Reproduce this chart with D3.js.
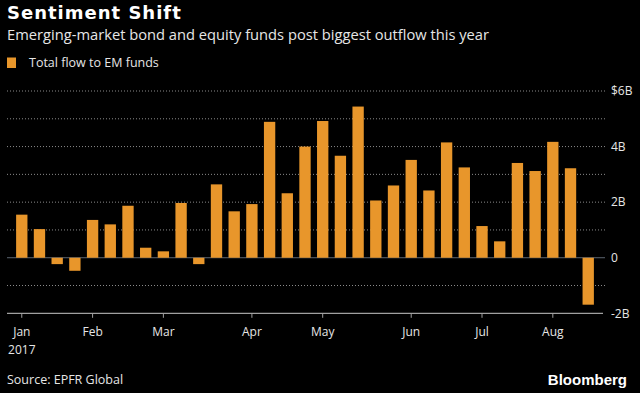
<!DOCTYPE html>
<html>
<head>
<meta charset="utf-8">
<script src="https://cdn.jsdelivr.net/npm/d3@7"></script>
<style>
  html, body { margin: 0; padding: 0; background: #000; }
  svg { display: block; }
  text { font-family: "Open Sans", "Liberation Sans", sans-serif; fill: #e6e6e6; }
</style>
</head>
<body>
<svg id="chart" width="640" height="393"></svg>
<script>
// weekly flows, week ending (Wed), 2017
var weeks = [
  "2017-01-04", "2017-01-11", "2017-01-18", "2017-01-25",
  "2017-02-01", "2017-02-08", "2017-02-15", "2017-02-22",
  "2017-03-01", "2017-03-08", "2017-03-15", "2017-03-22", "2017-03-29",
  "2017-04-05", "2017-04-12", "2017-04-19", "2017-04-26",
  "2017-05-03", "2017-05-10", "2017-05-17", "2017-05-24", "2017-05-31",
  "2017-06-07", "2017-06-14", "2017-06-21", "2017-06-28",
  "2017-07-05", "2017-07-12", "2017-07-19", "2017-07-26",
  "2017-08-02", "2017-08-09", "2017-08-16"
];
// $ billions
var flows = [
  1.55, 1.03, -0.23, -0.47,
  1.36, 1.20, 1.87, 0.36,
  0.23, 1.97, -0.23, 2.64, 1.67,
  1.93, 4.89, 2.32, 4.00,
  4.92, 3.67, 5.44, 2.06, 2.60,
  3.52, 2.42, 4.15, 3.25,
  1.14, 0.59, 3.41, 3.12,
  4.17, 3.22, -1.69
];
var yTicks = [-2, 0, 2, 4, 6];
var yTickLabels = ["-2B", "0", "2B", "4B", "$6B"];
var gridValues = [-1, 1, 2, 3, 4, 5, 6];

var seriesName = "Total flow to EM funds";
var barColor = "#e8962b";

function draw(target) {
	var parse = d3.timeParse("%Y-%m-%d");
	var data = weeks.map(function(w, i) { return { date: parse(w), key: w, value: flows[i] }; });

	var svg = d3.select(target),
		width = +svg.attr("width"),
		height = +svg.attr("height");

	svg.append("rect").attr("width", width).attr("height", height).attr("fill", "#000");

	var plotLeft = 7, plotRight = 603, plotTop = 91, plotBottom = 313.3;

	var x = d3.scaleBand()
		.domain(weeks)
		.range([plotLeft, plotRight])
		.paddingInner(0.36)
		.paddingOuter(0.515);

	var y = d3.scaleLinear()
		.domain([-2, 6])
		.range([plotBottom, plotTop]);

	// titles
	svg.append("text")
		.attr("x", 7).attr("y", 18.5)
		.style("font-family", "'DejaVu Sans', sans-serif")
		.style("font-weight", "bold")
		.style("font-size", "18px")
		.style("letter-spacing", "1px")
		.style("fill", "#fff")
		.text("Sentiment Shift");

	svg.append("text")
		.attr("x", 7).attr("y", 39.5)
		.style("font-size", "14.7px")
		.text("Emerging-market bond and equity funds post biggest outflow this year");

	// legend
	svg.append("rect")
		.attr("x", 7).attr("y", 57.5)
		.attr("width", 9).attr("height", 10.5)
		.attr("fill", barColor);
	svg.append("text")
		.attr("x", 29).attr("y", 66.5)
		.style("font-size", "12.5px")
		.text(seriesName);

	// dotted gridlines
	svg.append("g")
		.selectAll("line")
		.data(gridValues)
		.enter().append("line")
			.attr("x1", plotLeft).attr("x2", plotRight + 2)
			.attr("y1", function(d) { return y(d); })
			.attr("y2", function(d) { return y(d); })
			.attr("stroke", "#8a8a8a")
			.attr("stroke-width", 1)
			.attr("stroke-dasharray", "1,2");

	// zero line
	svg.append("line")
		.attr("x1", plotLeft).attr("x2", plotRight + 2)
		.attr("y1", y(0)).attr("y2", y(0))
		.attr("stroke", "#5b6470")
		.attr("stroke-width", 1);

	// bars
	svg.append("g")
		.selectAll("rect")
		.data(data)
		.enter().append("rect")
			.attr("x", function(d) { return x(d.key); })
			.attr("width", x.bandwidth())
			.attr("y", function(d) { return y(Math.max(0, d.value)); })
			.attr("height", function(d) { return Math.abs(y(d.value) - y(0)); })
			.attr("fill", barColor);

	// bottom axis line
	svg.append("line")
		.attr("x1", plotLeft).attr("x2", plotRight)
		.attr("y1", plotBottom).attr("y2", plotBottom)
		.attr("stroke", "#a0a0a0")
		.attr("stroke-width", 1.2);

	// month ticks at first week of each month
	var monthStarts = data.filter(function(d, i) {
		return i === 0 || d.date.getMonth() !== data[i - 1].date.getMonth();
	});
	var fmt = d3.timeFormat("%b");

	var xt = svg.append("g").selectAll("g")
		.data(monthStarts)
		.enter().append("g")
			.attr("transform", function(d) { return "translate(" + (x(d.key) + x.bandwidth() / 2) + ",0)"; });
	xt.append("line")
		.attr("y1", plotBottom).attr("y2", plotBottom + 4.5)
		.attr("stroke", "#a0a0a0");
	xt.append("text")
		.attr("y", 336)
		.attr("text-anchor", "middle")
		.style("font-size", "12px")
		.text(function(d) { return fmt(d.date); });

	svg.append("text")
		.attr("x", x(weeks[0]) + x.bandwidth() / 2)
		.attr("y", 354)
		.attr("text-anchor", "middle")
		.style("font-size", "12px")
		.text("2017");

	// right y labels
	svg.append("g")
		.selectAll("text")
		.data(yTicks)
		.enter().append("text")
			.attr("x", 611)
			.attr("y", function(d) { return y(d); })
			.attr("dy", "0.35em")
			.style("font-size", "12px")
			.text(function(d, i) { return yTickLabels[i]; });

	// footer
	svg.append("text")
		.attr("x", 7).attr("y", 383.5)
		.style("font-size", "12.5px")
		.text("Source: EPFR Global");

	svg.append("text")
		.attr("x", 627).attr("y", 385)
		.attr("text-anchor", "end")
		.style("font-family", "'Liberation Sans', sans-serif")
		.style("font-weight", "bold")
		.style("font-size", "15px")
		.style("fill", "#fff")
		.text("Bloomberg");
}

draw("#chart");
</script>
</body>
</html>
